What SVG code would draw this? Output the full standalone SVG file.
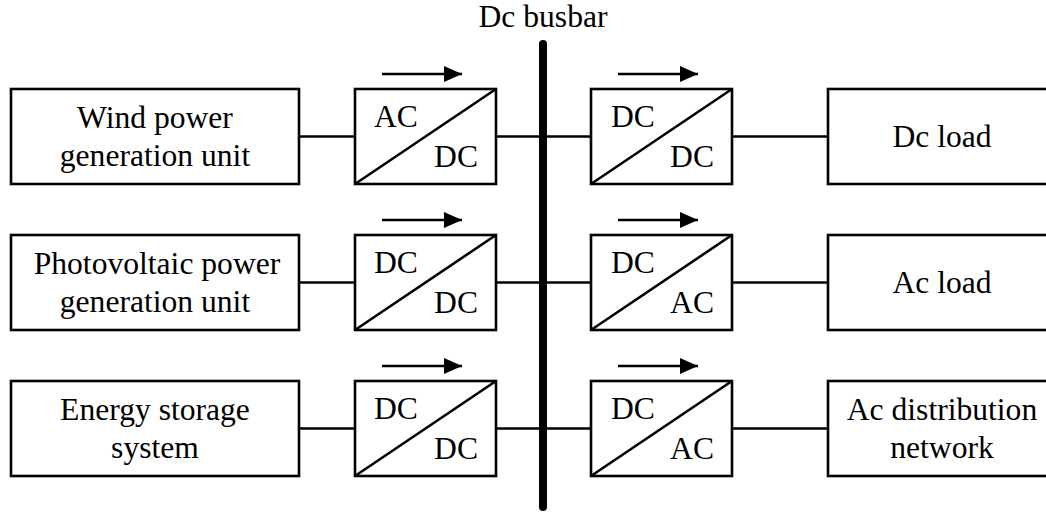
<svg xmlns="http://www.w3.org/2000/svg" width="1046" height="513" viewBox="0 0 1046 513">
  <style>
    .box { fill: #fff; stroke: #000; stroke-width: 2.6; }
    .wire { stroke: #000; stroke-width: 2.6; fill: none; }
    .flow { stroke: #000; stroke-width: 2.6; fill: none; marker-end: url(#head); }
    .bus { stroke: #000; stroke-width: 8; stroke-linecap: round; }
    text { font-family: "Liberation Serif", "Times New Roman", serif; font-size: 31.6px; fill: #000; }
    .mid { text-anchor: middle; }
    .end { text-anchor: end; }
  </style>
  <defs>
    <marker id="head" markerUnits="userSpaceOnUse" markerWidth="18" markerHeight="16" refX="18" refY="8" orient="auto">
      <path d="M0,0 L18,8 L0,16 Z" fill="#000"/>
    </marker>
  </defs>
  <rect width="1046" height="513" fill="#fff"/>

  <!-- connectors -->
  <g id="connectors">
    <line class="bus" x1="543" y1="44" x2="543" y2="507"/>
    <!-- row 1 -->
    <line class="wire" x1="299" y1="136.5" x2="355" y2="136.5"/>
    <line class="wire" x1="496" y1="136.5" x2="591" y2="136.5"/>
    <line class="wire" x1="732" y1="136.5" x2="828" y2="136.5"/>
    <!-- row 2 -->
    <line class="wire" x1="299" y1="282.5" x2="355" y2="282.5"/>
    <line class="wire" x1="496" y1="282.5" x2="591" y2="282.5"/>
    <line class="wire" x1="732" y1="282.5" x2="828" y2="282.5"/>
    <!-- row 3 -->
    <line class="wire" x1="299" y1="428.5" x2="355" y2="428.5"/>
    <line class="wire" x1="496" y1="428.5" x2="591" y2="428.5"/>
    <line class="wire" x1="732" y1="428.5" x2="828" y2="428.5"/>
    <!-- power flow arrows -->
    <line class="flow" x1="382" y1="74" x2="462" y2="74"/>
    <line class="flow" x1="618" y1="74" x2="698" y2="74"/>
    <line class="flow" x1="382" y1="220" x2="462" y2="220"/>
    <line class="flow" x1="618" y1="220" x2="698" y2="220"/>
    <line class="flow" x1="382" y1="366" x2="462" y2="366"/>
    <line class="flow" x1="618" y1="366" x2="698" y2="366"/>
  </g>

  <text class="mid" x="543" y="27">Dc busbar</text>

  <!-- sources -->
  <g id="wind">
    <rect class="box" x="11" y="89" width="288" height="95"/>
    <text class="mid" x="155" y="128">Wind power</text>
    <text class="mid" x="155" y="166">generation unit</text>
  </g>
  <g id="pv">
    <rect class="box" x="11" y="235" width="288" height="95"/>
    <text class="mid" x="157" y="274">Photovoltaic power</text>
    <text class="mid" x="155" y="312">generation unit</text>
  </g>
  <g id="storage">
    <rect class="box" x="11" y="381" width="288" height="95"/>
    <text class="mid" x="155" y="420">Energy storage</text>
    <text class="mid" x="155" y="458">system</text>
  </g>

  <!-- source-side converters -->
  <g id="conv-wind">
    <rect class="box" x="355" y="89" width="141" height="95"/>
    <line class="wire" x1="355" y1="184" x2="496" y2="89"/>
    <text x="374" y="127">AC</text>
    <text class="end" x="478" y="167">DC</text>
  </g>
  <g id="conv-pv">
    <rect class="box" x="355" y="235" width="141" height="95"/>
    <line class="wire" x1="355" y1="330" x2="496" y2="235"/>
    <text x="374" y="273">DC</text>
    <text class="end" x="478" y="313">DC</text>
  </g>
  <g id="conv-storage">
    <rect class="box" x="355" y="381" width="141" height="95"/>
    <line class="wire" x1="355" y1="476" x2="496" y2="381"/>
    <text x="374" y="419">DC</text>
    <text class="end" x="478" y="459">DC</text>
  </g>

  <!-- load-side converters -->
  <g id="conv-dcload">
    <rect class="box" x="591" y="89" width="141" height="95"/>
    <line class="wire" x1="591" y1="184" x2="732" y2="89"/>
    <text x="611" y="127">DC</text>
    <text class="end" x="714" y="167">DC</text>
  </g>
  <g id="conv-acload">
    <rect class="box" x="591" y="235" width="141" height="95"/>
    <line class="wire" x1="591" y1="330" x2="732" y2="235"/>
    <text x="611" y="273">DC</text>
    <text class="end" x="714" y="313">AC</text>
  </g>
  <g id="conv-grid">
    <rect class="box" x="591" y="381" width="141" height="95"/>
    <line class="wire" x1="591" y1="476" x2="732" y2="381"/>
    <text x="611" y="419">DC</text>
    <text class="end" x="714" y="459">AC</text>
  </g>

  <!-- loads -->
  <g id="dcload">
    <rect class="box" x="828" y="89" width="230" height="95"/>
    <text class="mid" x="942" y="147">Dc load</text>
  </g>
  <g id="acload">
    <rect class="box" x="828" y="235" width="230" height="95"/>
    <text class="mid" x="942" y="293">Ac load</text>
  </g>
  <g id="grid">
    <rect class="box" x="828" y="381" width="230" height="95"/>
    <text class="mid" x="942" y="420">Ac distribution</text>
    <text class="mid" x="942" y="458">network</text>
  </g>
</svg>
